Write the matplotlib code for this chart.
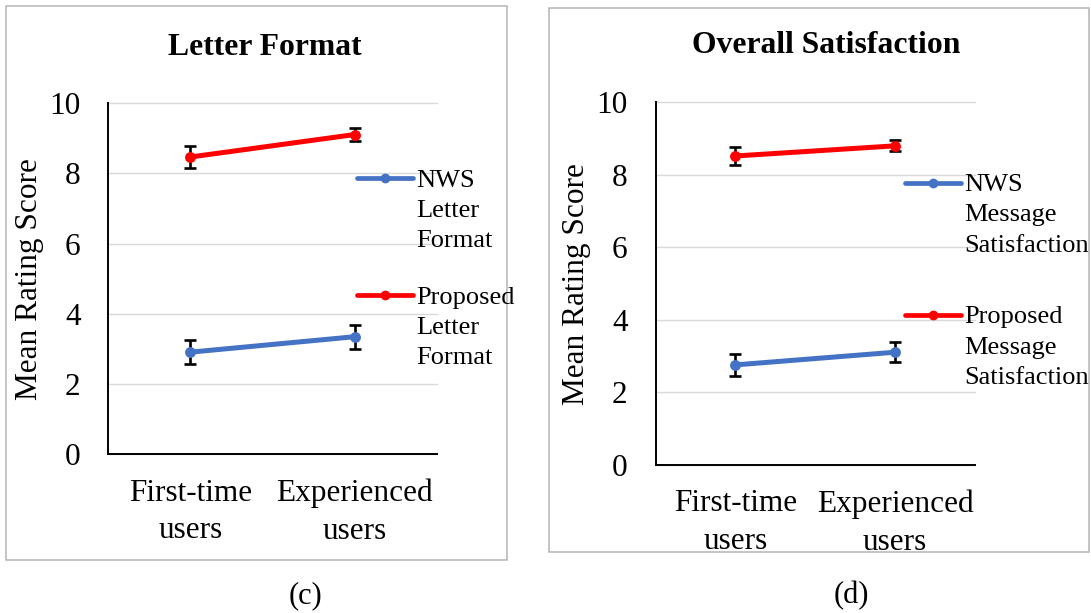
import matplotlib
matplotlib.use("Agg")
import matplotlib.pyplot as plt
from matplotlib.lines import Line2D
from matplotlib.patches import Rectangle

plt.rcParams['font.family'] = ['Liberation Serif', 'DejaVu Serif']

# ---- data ----
categories = ["First-time\nusers", "Experienced\nusers"]

letter_title = "Letter Format"
letter_nws = [2.91, 3.35]
letter_nws_err = [0.35, 0.34]
letter_prop = [8.47, 9.11]
letter_prop_err = [0.30, 0.18]
letter_labels = ["NWS Letter Format", "Proposed Letter Format"]

sat_title = "Overall Satisfaction"
sat_nws = [2.76, 3.11]
sat_nws_err = [0.31, 0.27]
sat_prop = [8.52, 8.80]
sat_prop_err = [0.25, 0.15]
sat_labels = ["NWS Message Satisfaction", "Proposed Message Satisfaction"]

y_ticks = [0, 2, 4, 6, 8, 10]
captions = ["(c)", "(d)"]

BLUE = "#4472C4"
RED = "#FF0000"
GRID = "#D9D9D9"
FRAME = "#B4B4B4"

W, H = 1091, 613
fig = plt.figure(figsize=(W / 100, H / 100), dpi=100)
fig.patch.set_facecolor("white")


def fx(x):
    return x / W


def fy(y):
    return 1 - y / H


def panel(box, ax_rect, title, title_xy, nws, nws_err, prop, prop_err,
          labels, leg_x, leg_ys, caption, caption_xy):
    # outer frame
    x0, y0, x1, y1 = box
    fig.patches.append(Rectangle((fx(x0), fy(y1)), (x1 - x0) / W, (y1 - y0) / H,
                                 transform=fig.transFigure, fill=False,
                                 edgecolor=FRAME, linewidth=1.1))
    l, t, r, b = ax_rect
    ax = fig.add_axes([fx(l), fy(b), (r - l) / W, (b - t) / H])
    xs = list(range(len(categories)))

    for vals, errs, col in ((nws, nws_err, BLUE), (prop, prop_err, RED)):
        ax.errorbar(xs, vals, yerr=errs, fmt="none", ecolor="black",
                    elinewidth=1.9, capsize=4.2, capthick=1.9, zorder=3)
        ax.plot(xs, vals, color=col, lw=3.6, marker="o", markersize=6.8,
                solid_capstyle="round", zorder=4)

    ax.set_xlim(-0.5, 1.5)
    ax.set_ylim(0, 10)
    ax.set_yticks(y_ticks)
    ax.set_xticks(xs)
    ax.set_xticklabels(categories)
    for tl in ax.get_xticklabels():
        tl.set_linespacing(1.4)
    ax.tick_params(axis="both", length=0, labelsize=22.5, colors="black")
    ax.tick_params(axis="y", pad=20)
    ax.tick_params(axis="x", pad=17.5)
    ax.set_ylabel("Mean Rating Score", fontsize=22.5, labelpad=4)
    ax.grid(axis="y", color=GRID, linewidth=1.0)
    ax.set_axisbelow(True)
    for gl in ax.get_ygridlines():
        gl.set_clip_on(False)
    for s in ("top", "right"):
        ax.spines[s].set_visible(False)
    for s in ("left", "bottom"):
        ax.spines[s].set_color("black")
        ax.spines[s].set_linewidth(1.4)
        ax.spines[s].set_zorder(5)

    fig.text(fx(title_xy[0]), fy(title_xy[1]), title, ha="center",
             va="baseline", fontsize=22.8, fontweight="bold")

    # legend entries: line swatch with marker, label wrapped one word per line
    for lab, col, ly in zip(labels, (BLUE, RED), leg_ys):
        fig.add_artist(Line2D([fx(leg_x - 59), fx(leg_x - 3)], [fy(ly), fy(ly)],
                              transform=fig.transFigure, color=col, lw=3.4,
                              solid_capstyle="round"))
        fig.add_artist(Line2D([fx(leg_x - 31)], [fy(ly)], transform=fig.transFigure,
                              color=col, marker="o", markersize=6.0, lw=0))
        for i, word in enumerate(lab.split()):
            fig.text(fx(leg_x), fy(ly + 8.5 + i * 30.3), word, ha="left",
                     va="baseline", fontsize=19)

    fig.text(fx(caption_xy[0]), fy(caption_xy[1]), caption, ha="center",
             va="center", fontsize=22)
    return ax


panel((6, 6, 507, 560), (108.3, 103.3, 436.7, 454.3), letter_title, (265, 55),
      letter_nws, letter_nws_err, letter_prop, letter_prop_err,
      letter_labels, 416, (178.3, 295), captions[0], (305, 596))

panel((549, 8, 1089, 552), (655.5, 102.3, 975, 465), sat_title, (826, 53),
      sat_nws, sat_nws_err, sat_prop, sat_prop_err,
      sat_labels, 964, (182.7, 315), captions[1], (851, 596))

fig.savefig("out.png", dpi=100, facecolor="white")
